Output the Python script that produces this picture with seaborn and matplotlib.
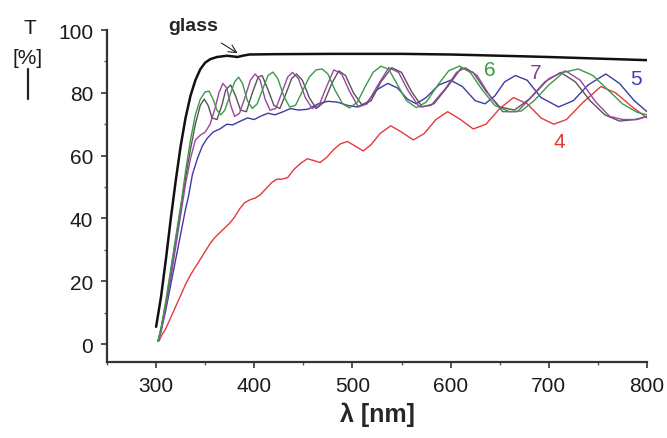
import matplotlib
matplotlib.use("Agg")
import matplotlib.pyplot as plt
import seaborn as sns
from matplotlib.ticker import MultipleLocator

# transmission spectra (wavelength in nm, T in %)
glass_nm = [300, 305, 310, 315, 320, 325, 330, 335, 340, 345, 350, 355, 362, 372, 378, 383, 388, 395,
            420, 480, 550, 600, 664, 700, 750, 800]
glass_T = [5.5, 15, 27, 40, 52, 63, 72, 79, 84, 87.5, 89.6, 90.7, 91.4, 91.8, 91.6, 91.4, 91.8, 92.2,
           92.3, 92.4, 92.4, 92.2, 91.7, 91.4, 90.9, 90.4]

s4_nm = [303, 306, 310, 315, 320, 325, 330, 335, 340, 345, 350, 355, 360, 365, 370, 375, 380, 385, 390,
         396, 401, 406, 412, 418, 423, 428, 434, 440, 447, 454, 460, 467, 474, 481, 488, 495, 503, 511,
         519, 528, 539, 550, 562, 573, 585, 597, 610, 623, 636, 650, 664, 678, 692, 705, 718, 735, 753,
         768, 785, 800]
s4_T = [1, 3, 5, 8.5, 12, 15.5, 19, 22, 24.5, 27, 29.5, 32, 34, 35.5, 37, 38.5, 40.5, 43, 45,
        46, 46.5, 47.5, 49.5, 51.5, 52.5, 52.5, 53, 55.5, 57.5, 59, 58.5, 57.8, 59.5, 62, 63.8, 64.5, 63,
        61.5, 63.5, 67, 69.5, 67.5, 65, 67, 71.5, 74, 71.5, 68.5, 70, 75, 78.5, 76.5, 72, 70, 71.5, 77,
        82, 80, 75.5, 72]

s5_nm = [302, 305, 310, 315, 320, 325, 330, 333, 337, 342, 347, 352, 358, 365, 372, 378, 386, 393, 400,
         406, 414, 421, 428, 437, 445, 455, 465, 475, 485, 495, 505, 515, 525, 536, 546, 556, 565, 575,
         588, 600, 612, 625, 635, 645, 655, 666, 678, 692, 710, 725, 740, 758, 772, 787, 800]
s5_T = [1, 4, 11, 19, 27, 35, 43, 47, 54, 59, 63, 65.5, 67.5, 68.5, 70, 69.8, 71, 72, 71.5,
        72.5, 73.5, 73, 73.8, 75, 74.5, 74.8, 76.5, 77.3, 77, 76, 75.5, 77, 81, 83, 81.5, 78, 76.5, 78.5,
        82.5, 84, 82, 77.5, 76.5, 79, 83.5, 85.5, 84, 78.5, 75.5, 77.5, 82.5, 86, 83, 77.5, 74]

s6_nm = [302, 305, 310, 315, 320, 326, 330, 335, 340, 345, 350, 354, 358, 362, 366, 370, 375, 380, 384,
         388, 393, 398, 403, 409, 414, 419, 424, 430, 436, 442, 449, 456, 463, 469, 475, 482, 490, 497,
         505, 513, 521, 529, 537, 545, 555, 565, 575, 587, 598, 609, 620, 632, 645, 660, 672, 685, 700,
         715, 730, 745, 760, 775, 790, 800]
s6_T = [1, 5, 14, 24, 34, 46, 55, 65, 73, 78, 80.3, 80.5, 78, 74.5, 73, 74.5, 79, 83.5, 85,
        83, 77.5, 75, 76.5, 81.5, 85.5, 86.6, 84.5, 79, 75.5, 76, 80.5, 85, 87.3, 87.6, 86, 81, 76.5, 75.2,
        77, 82, 86.5, 88.5, 87.5, 83, 77.5, 75.3, 77, 82.5, 87, 88.5, 86.5, 81, 76, 74, 74.2, 77.5, 82.5,
        86.5, 87.6, 85.5, 81, 76.5, 73.8, 73]

s7_nm = [302, 305, 310, 315, 320, 325, 330, 335, 340, 345, 350, 355, 360, 364, 368, 372, 376, 380, 385,
         391, 396, 401, 406, 411, 416, 422, 428, 434, 439, 445, 452, 459, 466, 473, 481, 489, 497, 506,
         515, 525, 537, 547, 557, 568, 580, 595, 606, 615, 627, 640, 653, 668, 685, 700, 717, 732, 748,
         762, 775, 790, 800]
s7_T = [1, 4, 12, 21, 31, 41, 51, 59, 65, 66.5, 67.5, 70, 75, 80, 83, 81.5, 76, 72.5, 73.5,
        79, 84, 86, 84, 78, 74.5, 75, 80, 85, 86.5, 84.5, 78.5, 75, 76, 81.5, 87.3, 86, 80.5, 75.5,
        76.5, 82, 88, 86.5, 80.5, 75.5, 76, 81.5, 86.5, 88, 85.5, 79, 74, 74, 79.5, 84.5, 87, 84, 77,
        72.5, 71.5, 71.5, 72.5]

# unlabelled grey trace
s3_nm = [302, 305, 310, 315, 320, 325, 330, 335, 340, 345, 349, 353, 357, 362, 367, 371, 376, 381, 386,
         392, 398, 404, 408, 414, 420, 426, 432, 438, 443, 449, 456, 463, 471, 479, 486, 493, 501, 510,
         519, 529, 540, 550, 560, 571, 583, 597, 611, 623, 636, 650, 665, 680, 696, 712, 727, 742, 757,
         772, 788, 800]
s3_T = [1, 5, 13, 23, 33, 43, 53, 62, 70, 76, 78, 76, 72, 71.5, 76, 81, 82.5, 79, 74.5,
        74, 80, 85, 85.5, 81, 76, 75, 79.5, 84.5, 86, 84, 78.5, 75, 77, 83, 87, 85.5, 80, 76,
        77.5, 83.5, 88, 86.5, 80.5, 75.5, 76.5, 82, 88, 86.5, 80.5, 75.5, 74.5, 78, 83.5, 86.5, 83.5, 77.5,
        73, 71, 71.5, 72.5]

curves = [
    (s4_nm, s4_T, "#e5393c", 1.0),
    (s5_nm, s5_T, "#3b3ba6", 1.0),
    (s3_nm, s3_T, "#555555", 1.0),
    (s7_nm, s7_T, "#9a45a3", 1.0),
    (s6_nm, s6_T, "#3c9a48", 1.0),
    (glass_nm, glass_T, "#111111", 1.8),
]

sns.set_style("ticks")
plt.rcParams["font.family"] = ["Liberation Sans", "DejaVu Sans"]

fig = plt.figure(figsize=(6.67, 4.39), dpi=100)
ax = fig.add_axes([107 / 667, 76 / 439, 540 / 667, 332 / 439])

for x, y, c, lw in curves:
    sns.lineplot(x=x, y=y, color=c, linewidth=lw, sort=False, ax=ax)

ax.set_xlim(250, 800)
ax.set_ylim(-5.7, 100)
ax.set_xticks([300, 400, 500, 600, 700, 800])
ax.set_yticks([0, 20, 40, 60, 80, 100])
ax.xaxis.set_minor_locator(MultipleLocator(50))
ax.yaxis.set_minor_locator(MultipleLocator(10))
ax.tick_params(which="major", length=4, width=1.2, labelsize=15, color="#333333",
               labelcolor="#1a1a1a", pad=6)
ax.tick_params(which="minor", length=2.5, width=1, color="#555555")
for s in ["top", "right"]:
    ax.spines[s].set_visible(False)
for s in ["left", "bottom"]:
    ax.spines[s].set_linewidth(1.6)
    ax.spines[s].set_color("#333333")

ax.set_xlabel("λ [nm]", fontsize=18, fontweight="bold", labelpad=5)
ax.set_ylabel("")

# curve labels
ax.text(640, 87.5, "6", color="#3c9a3c", fontsize=15, ha="center", va="center")
ax.text(687, 86.5, "7", color="#8a3a9a", fontsize=15, ha="center", va="center")
ax.text(789, 84.5, "5", color="#3d3dc0", fontsize=15, ha="center", va="center")
ax.text(711, 64.5, "4", color="#e03a3a", fontsize=15, ha="center", va="center")
ax.annotate("glass", xy=(383, 92.6), xytext=(338, 101.5), fontsize=14, fontweight="bold",
            ha="center", va="center", annotation_clip=False,
            arrowprops=dict(arrowstyle="->", lw=0.8, color="#222222", shrinkA=8, shrinkB=0))

# y-axis caption
fig.text(30 / 667, 1 - 29 / 439, "T", fontsize=15, ha="center", va="center", color="#1a1a1a")
fig.text(28 / 667, 1 - 59 / 439, "[%]", fontsize=15, ha="center", va="center", color="#1a1a1a")
fig.add_artist(plt.Line2D([28 / 667, 28 / 667], [1 - 70 / 439, 1 - 100 / 439], color="#222222", lw=1.6))

fig.savefig("out.png", dpi=100)
